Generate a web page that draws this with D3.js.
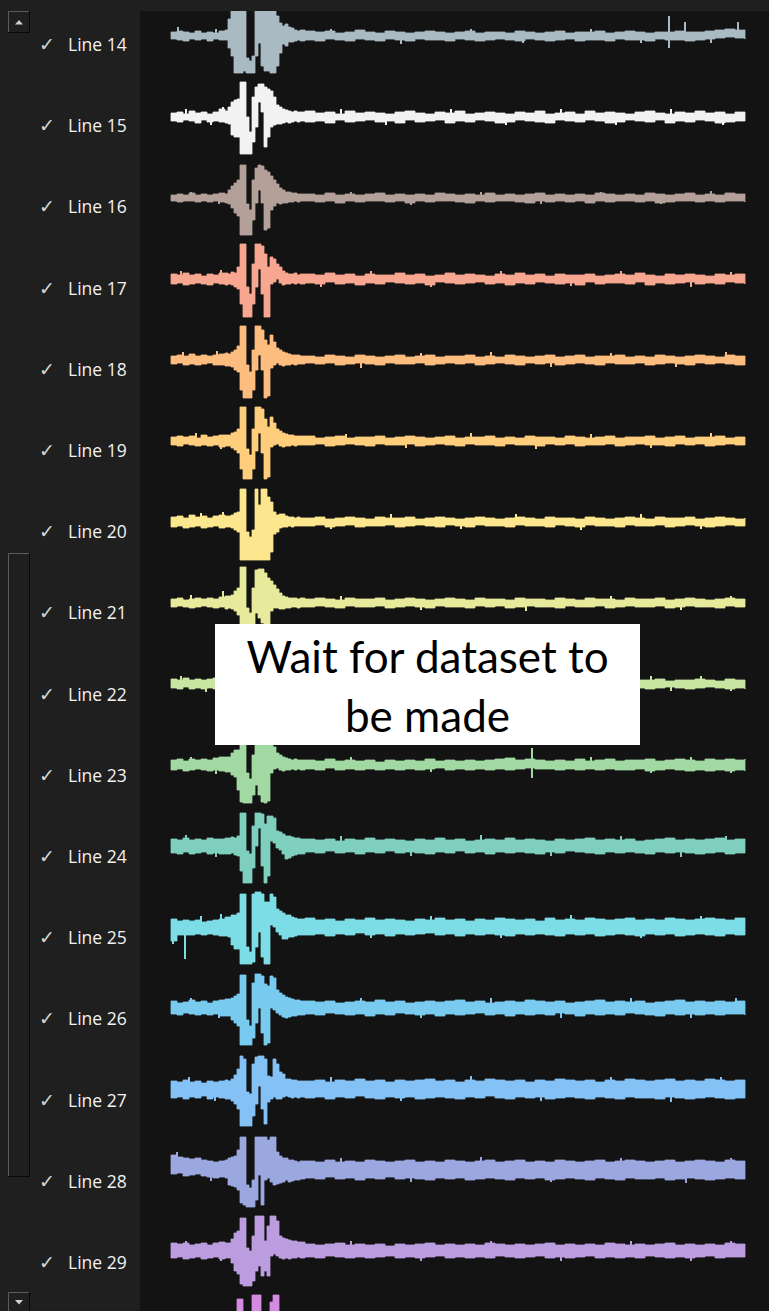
<!DOCTYPE html>
<html><head><meta charset="utf-8">
<script src="https://cdn.jsdelivr.net/npm/d3@7/dist/d3.min.js"></script>
<style>html,body{margin:0;padding:0;background:#1f1f1f;overflow:hidden}svg{display:block}</style>
</head><body><svg id="chart" width="769" height="1311"></svg>
<script>
// sample times (ms) of the traces
const times = [0,6,12,18,24,30,36,42,48,54,
 57,60,63,66,69,72,75,78,81,84,87,90,93,96,99,102,105,108,111,114,117,120,123,126,129,
 134,144,154,164,174,184,194,204,214,224,234,244,254,264,274,284,294,304,314,324,334,344,354,364,374,384,394,404,414,424,434,444,454,464,474,484,494,504,514,524,534,544,554,564,574];

const lineNames = ["Line 14","Line 15","Line 16","Line 17","Line 18","Line 19","Line 20","Line 21","Line 22","Line 23","Line 24","Line 25","Line 26","Line 27","Line 28","Line 29","Line 30"];
const lineColors = ["#a9bac3","#f2f2f2","#b3a199","#f7a690","#fdbd7f","#fece7d","#fce68e","#e6ea9a","#c8e6a2","#a2d9a3","#7fcfbf","#7ddde6","#78cbef","#84c2f5","#9ba7df","#bb9ddf","#d48ce0"];

// upper / lower envelope of each trace (amplitude units)
const up14 = [4,5,4,3,5,3,4,3,5,6, 17,30,30,30,30,30,-22,-25,-20,30,30,30,30,30,28,25,20,13,10,12,9,8,6,5,6, 5,4,5,3,4,6,4,3,5,4,3,4,5,4,3,4,5,3,4,4,3,5,4,3,4,5,3,4,4,5,3,4,5,4,3,4,4,5,4,4,5,6,7,6,5];
const lo14 = [-3,-4,-5,-3,-4,-3,-5,-3,-4,-4, -12,-20,-37,-37,-37,-35,-37,-37,-37,-20,-7,-30,-35,-35,-37,-37,-30,-17,-8,-10,-6,-6,-5,-4,-5, -4,-5,-3,-4,-5,-3,-4,-5,-3,-4,-5,-3,-4,-4,-5,-3,-4,-5,-4,-3,-4,-5,-3,-4,-5,-4,-3,-5,-4,-4,-5,-3,-4,-4,-5,-3,-4,-4,-5,-4,-3,-2,-1,-2,-3];
const up15 = [4,5,3,6,4,5,3,5,8,6, 10,15,17,18,35,35,0,-15,20,30,33,33,30,28,26,20,12,10,8,7,6,5,6,5,5, 6,4,5,3,6,4,5,4,3,5,6,4,3,5,4,6,3,4,5,4,3,5,4,6,3,4,5,3,6,4,5,4,3,5,6,4,3,5,4,6,4,5,3,5,4];
const lo15 = [-4,-5,-3,-4,-6,-3,-5,-4,-5,-6, -7,-18,-20,-20,-37,-37,-37,-37,-25,-10,15,5,-30,-20,-10,-8,-7,-7,-6,-5,-6,-5,-4,-5,-4, -5,-4,-6,-3,-5,-4,-3,-5,-4,-6,-3,-5,-4,-3,-6,-4,-5,-3,-4,-6,-5,-3,-4,-5,-6,-3,-4,-5,-3,-4,-6,-5,-3,-4,-5,-3,-6,-4,-5,-3,-4,-6,-5,-4,-4];
const up16 = [3,4,3,5,3,4,3,4,5,4, 8,12,15,18,33,33,-6,-12,18,30,33,32,28,26,22,18,14,10,8,6,6,5,5,4,4, 4,3,5,3,4,3,4,5,3,4,3,4,3,5,4,3,4,3,5,3,4,3,4,5,3,4,3,4,3,5,4,3,4,3,5,4,3,4,5,3,4,3,5,4,3];
const lo16 = [-3,-4,-3,-3,-4,-3,-4,-3,-4,-5, -6,-10,-15,-18,-37,-37,-37,-37,-22,-5,8,-5,-32,-30,-12,-8,-5,-6,-5,-5,-4,-4,-3,-4,-3, -3,-4,-3,-5,-3,-4,-3,-3,-4,-3,-5,-3,-4,-3,-3,-4,-5,-3,-4,-3,-3,-4,-5,-3,-4,-3,-4,-3,-5,-3,-4,-3,-3,-4,-3,-5,-4,-3,-3,-4,-3,-4,-3,-3,-4];
const up17 = [5,4,6,4,5,3,5,4,6,6, 5,7,6,12,35,35,-8,-15,15,35,35,33,25,12,22,20,15,12,8,6,5,5,6,4,5, 5,4,6,4,5,3,5,4,4,6,4,5,3,4,6,4,5,4,3,5,4,6,4,5,3,5,4,4,5,3,4,5,4,6,4,3,5,4,5,4,3,5,4,5,4];
const lo17 = [-5,-4,-6,-5,-4,-5,-6,-4,-5,-6, -5,-6,-8,-10,-25,-38,-38,-38,-25,-8,10,-15,-38,-38,-5,-3,0,-4,-6,-5,-5,-4,-5,-4,-5, -4,-5,-3,-5,-4,-6,-4,-5,-3,-4,-5,-4,-6,-3,-4,-5,-4,-3,-5,-4,-6,-4,-5,-3,-4,-5,-4,-6,-3,-5,-4,-4,-5,-3,-6,-4,-5,-4,-3,-5,-4,-5,-3,-4,-5];
const up18 = [4,5,4,6,4,5,4,5,6,7, 6,8,10,14,34,34,-5,-12,10,34,34,30,20,15,25,18,12,10,8,7,6,5,5,5,4, 4,3,5,4,3,5,4,3,4,5,3,4,5,3,4,4,5,3,4,3,5,4,3,4,5,3,4,5,3,4,4,5,3,4,3,5,4,3,4,5,4,3,5,4,4];
const lo18 = [-4,-3,-5,-4,-5,-4,-3,-5,-5,-6, -6,-7,-10,-12,-30,-38,-38,-38,-30,-10,5,-10,-38,-36,-8,-5,-3,-5,-6,-5,-5,-4,-5,-4,-4, -3,-4,-3,-5,-4,-3,-4,-5,-3,-4,-4,-3,-5,-4,-3,-4,-3,-5,-4,-3,-4,-5,-3,-4,-3,-5,-4,-3,-4,-5,-3,-4,-4,-3,-5,-4,-3,-4,-5,-3,-4,-3,-4,-5,-3];
const up19 = [4,5,4,5,3,6,4,5,6,6, 6,8,9,12,34,34,-8,-14,12,34,34,32,22,14,24,18,12,10,8,7,6,6,5,5,5, 5,3,4,5,3,4,4,5,3,4,5,4,3,4,5,3,4,4,5,3,4,3,5,4,4,3,5,4,3,4,5,3,4,4,5,3,4,5,3,4,4,5,3,4,4];
const lo19 = [-4,-5,-3,-4,-5,-4,-5,-4,-6,-5, -5,-7,-9,-12,-28,-38,-38,-38,-28,-10,8,-12,-38,-36,-6,-4,-3,-5,-6,-5,-5,-4,-5,-4,-4, -4,-3,-5,-4,-3,-4,-5,-3,-4,-4,-3,-5,-4,-3,-4,-5,-3,-4,-4,-5,-3,-4,-4,-5,-3,-4,-3,-5,-4,-4,-3,-5,-4,-3,-4,-4,-5,-3,-4,-3,-5,-4,-3,-4,-4];
const up20 = [5,6,4,7,5,6,4,6,7,6, 6,7,9,10,33,33,-10,-15,-8,33,17,33,33,25,20,10,7,8,8,6,5,5,4,5,4, 4,5,3,4,5,4,3,5,4,4,5,3,4,5,4,3,4,5,4,3,4,5,4,3,5,4,4,3,5,4,3,4,5,4,3,5,4,4,5,3,4,5,4,3,4];
const lo20 = [-5,-4,-6,-5,-4,-6,-5,-4,-6,-5, -5,-6,-8,-10,-38,-38,-38,-38,-38,-38,-38,-38,-38,-38,-30,-12,-10,-6,-5,-5,-4,-5,-4,-4,-4, -4,-3,-5,-4,-3,-5,-4,-4,-3,-5,-4,-3,-4,-5,-3,-4,-5,-3,-4,-4,-5,-3,-4,-4,-5,-3,-4,-5,-3,-4,-4,-5,-3,-4,-4,-3,-5,-4,-3,-4,-5,-4,-3,-4,-4];
const up21 = [4,5,3,4,5,4,5,4,6,7, 7,8,12,15,36,36,-5,-10,15,33,34,34,30,25,22,18,14,10,7,6,5,5,5,4,5, 4,5,4,3,5,4,4,5,3,4,5,4,3,4,5,4,3,5,4,4,3,5,4,4,3,5,4,3,5,4,4,3,5,4,4,5,3,4,5,4,3,4,5,4,4];
const lo21 = [-4,-3,-4,-5,-4,-3,-4,-5,-4,-6, -5,-6,-8,-12,-37,-37,-37,-37,-25,-10,-15,-20,-37,-30,-8,-5,-5,-6,-6,-5,-5,-4,-4,-5,-4, -4,-3,-4,-5,-3,-4,-4,-3,-5,-4,-3,-4,-5,-3,-4,-4,-5,-3,-4,-3,-5,-4,-3,-4,-4,-5,-3,-4,-4,-3,-5,-4,-3,-4,-4,-3,-5,-4,-3,-4,-4,-5,-3,-4,-4];
const up22 = [5,4,6,4,5,4,5,6,5,6, 6,8,10,14,34,34,-6,-12,14,34,34,32,24,14,22,18,12,10,8,7,6,5,5,5,5, 4,3,5,4,4,5,3,4,5,4,3,4,4,5,3,4,5,4,3,4,5,4,3,4,5,4,4,3,5,4,4,5,3,4,4,5,3,4,4,5,4,3,5,4,4];
const lo22 = [-4,-5,-3,-5,-4,-5,-4,-5,-4,-5, -6,-7,-10,-12,-30,-37,-37,-37,-28,-10,6,-12,-37,-35,-6,-4,-3,-5,-6,-5,-5,-4,-5,-4,-4, -4,-5,-3,-4,-4,-3,-5,-4,-3,-4,-5,-4,-3,-4,-5,-3,-4,-4,-5,-3,-4,-3,-5,-4,-4,-3,-5,-4,-4,-3,-5,-4,-3,-4,-5,-4,-3,-4,-5,-4,-3,-4,-5,-4,-5];
const up23 = [5,6,4,6,5,6,5,7,8,8, 8,12,15,15,33,33,-8,-14,10,33,34,32,28,25,22,18,12,10,8,7,6,5,6,5,5, 5,4,6,4,5,4,5,3,5,4,5,4,6,4,5,4,5,4,5,6,7,5,6,5,4,5,4,6,4,5,6,4,5,5,6,4,5,6,5,4,6,5,6,5,6];
const lo23 = [-5,-4,-6,-5,-4,-5,-6,-5,-6,-7, -7,-10,-12,-25,-37,-38,-38,-38,-30,-20,-30,-37,-38,-36,-8,-4,-3,-5,-6,-5,-5,-4,-5,-4,-5, -4,-5,-3,-5,-4,-5,-4,-5,-4,-5,-4,-5,-4,-3,-5,-4,-5,-4,-5,-4,-5,-4,-3,-4,-4,-5,-4,-5,-4,-5,-4,-5,-5,-4,-6,-5,-4,-5,-6,-5,-6,-5,-6,-5,-6];
const up24 = [7,6,8,6,7,6,8,7,7,8, 8,9,8,10,33,33,-5,-8,20,33,33,32,22,30,30,28,15,14,12,10,10,9,8,8,7, 7,6,7,5,7,6,8,6,7,6,5,7,6,8,6,7,5,6,7,6,8,6,7,6,5,7,6,7,8,6,7,6,7,5,6,7,8,6,7,6,7,8,6,7,7];
const lo24 = [-7,-8,-6,-8,-7,-6,-8,-7,-8,-8, -8,-7,-9,-10,-25,-37,-37,-37,-22,0,18,-20,-37,-30,5,3,-2,-4,-8,-13,-12,-10,-9,-8,-8, -6,-7,-5,-7,-6,-8,-6,-7,-5,-7,-6,-7,-8,-6,-7,-5,-7,-6,-8,-6,-7,-6,-7,-8,-6,-7,-5,-6,-7,-8,-6,-7,-6,-7,-8,-6,-7,-6,-7,-8,-7,-6,-8,-7,-7];
const up25 = [8,6,7,6,7,5,6,7,8,10, 10,12,12,14,33,33,-20,-25,33,35,35,33,25,25,33,30,18,16,14,12,12,10,9,8,8, 9,7,8,6,8,7,9,7,8,7,6,8,7,9,7,8,6,8,7,9,8,7,8,6,9,7,8,7,9,8,7,8,9,7,8,7,9,8,7,8,9,8,7,9,8];
const lo25 = [-14,-8,-8,-8,-7,-8,-7,-8,-9,-9, -10,-18,-22,-22,-37,-37,-37,-37,-35,-20,-5,-30,-37,-37,2,0,-5,-8,-12,-12,-10,-10,-9,-8,-8, -8,-7,-9,-7,-8,-6,-8,-7,-9,-7,-8,-7,-6,-8,-7,-9,-7,-8,-7,-8,-9,-7,-8,-7,-8,-9,-7,-8,-7,-9,-8,-7,-8,-9,-7,-8,-7,-9,-8,-7,-8,-9,-7,-8,-8];
const up26 = [7,5,6,8,6,7,5,7,8,9, 9,10,12,14,33,33,-12,-18,25,34,34,32,24,22,32,30,18,15,13,11,10,9,8,8,7, 7,6,7,5,6,7,6,8,6,7,5,6,7,6,7,8,6,7,5,6,7,6,8,7,6,7,5,6,7,8,6,7,6,7,5,6,7,8,6,7,6,7,6,7,6];
const lo26 = [-6,-7,-5,-6,-7,-6,-7,-6,-8,-8, -8,-12,-15,-18,-37,-37,-37,-37,-30,-15,0,-25,-37,-35,0,-2,-5,-7,-9,-10,-9,-8,-8,-7,-7, -6,-7,-5,-6,-7,-6,-8,-6,-7,-5,-6,-7,-6,-8,-6,-7,-6,-5,-7,-6,-8,-6,-7,-6,-7,-5,-6,-8,-6,-7,-6,-7,-5,-6,-7,-8,-6,-7,-6,-7,-6,-7,-6,-6,-7];
const up27 = [8,7,9,7,8,6,8,7,8,9, 8,10,14,20,33,30,-3,-5,25,32,33,33,30,13,12,30,25,17,15,10,10,9,9,8,8, 8,9,7,9,8,10,8,9,7,9,8,9,10,8,9,7,9,8,10,9,8,9,7,9,8,10,9,8,9,7,9,8,10,9,8,9,10,8,9,8,10,9,8,9,9];
const lo27 = [-9,-8,-10,-8,-9,-7,-10,-8,-9,-10, -10,-12,-15,-20,-37,-37,-37,-37,-27,-15,3,-20,-35,-13,-10,-8,-10,-10,-8,-7,-8,-9,-8,-9,-8, -9,-8,-10,-8,-9,-7,-9,-10,-8,-9,-8,-10,-9,-8,-9,-10,-8,-9,-7,-9,-10,-8,-9,-8,-10,-9,-8,-9,-10,-8,-9,-10,-8,-9,-9,-10,-8,-9,-10,-9,-8,-9,-10,-9,-9];
const up28 = [15,13,12,11,12,10,9,8,9,10, 12,13,14,20,33,33,-15,-18,-10,33,33,33,33,30,33,33,18,14,12,12,10,10,9,8,9, 9,8,10,8,9,8,10,9,8,9,10,8,9,8,10,9,8,9,10,8,9,10,8,9,8,10,9,8,9,10,8,9,10,9,8,9,10,8,9,10,9,8,10,9,9];
const lo28 = [-4,-3,-6,-5,-4,-6,-7,-8,-7,-8, -15,-16,-17,-20,-33,-35,-37,-37,-37,-30,-5,-35,-10,-8,-12,-15,-14,-13,-12,-10,-12,-11,-10,-10,-9, -8,-9,-7,-9,-8,-10,-8,-9,-7,-9,-8,-9,-10,-8,-9,-8,-10,-9,-8,-9,-10,-8,-9,-8,-10,-9,-8,-9,-10,-8,-9,-10,-8,-9,-9,-8,-10,-9,-8,-9,-10,-9,-8,-9,-9];
const up29 = [8,7,8,6,7,8,6,8,9,8, 8,12,18,20,33,33,3,0,15,35,35,35,10,25,35,35,30,15,13,12,11,10,10,9,9, 7,6,7,8,6,7,6,7,5,7,6,7,8,6,7,6,7,6,8,7,6,7,6,7,8,6,7,6,7,6,8,7,6,7,6,7,8,6,7,6,7,6,8,7,6];
const lo29 = [-7,-6,-8,-7,-6,-8,-7,-6,-8,-7, -7,-12,-20,-23,-33,-35,-35,-35,-30,-20,-15,-25,-20,-25,-5,-3,-5,-7,-8,-7,-8,-7,-7,-6,-7, -6,-7,-5,-6,-7,-6,-7,-6,-5,-7,-6,-7,-6,-5,-7,-6,-7,-6,-7,-5,-6,-7,-6,-5,-7,-6,-7,-6,-5,-7,-6,-7,-6,-7,-5,-6,-7,-6,-7,-6,-5,-7,-6,-6,-6];
const up30 = [7,6,8,7,6,7,8,7,8,9, 9,10,12,33,33,-10,-15,-5,37,37,37,20,10,15,30,37,37,15,12,10,9,9,8,8,8, 7,8,6,7,8,7,6,8,7,6,8,7,6,7,8,6,7,8,7,6,7,8,6,7,8,7,6,7,8,7,6,8,7,6,7,8,7,6,8,7,6,7,8,7,7];
const lo30 = [-7,-6,-7,-8,-6,-7,-6,-8,-7,-8, -8,-10,-15,-37,-37,-37,-37,-37,-30,-20,-10,-30,-37,-30,-10,-5,-8,-10,-9,-8,-8,-7,-8,-7,-8, -7,-6,-8,-7,-6,-7,-8,-6,-7,-8,-6,-7,-8,-7,-6,-7,-8,-6,-7,-7,-8,-6,-7,-8,-6,-7,-8,-7,-6,-7,-8,-7,-6,-8,-7,-6,-7,-8,-7,-6,-7,-8,-6,-7,-7];

// narrow spikes on each trace: [time, peak amplitude]
const spk14 = [[7,9],[45,7],[160,7],[230,-8],[300,7],[352,-7],[420,7],[470,-7],[498,20],[498,-12],[514,14],[540,-7],[567,14]];
const spk15 = [[15,8],[40,-8],[52,10],[170,8],[215,-8],[280,8],[335,-8],[390,8],[445,-8],[500,8],[552,-8]];
const spk16 = [[20,6],[48,-6],[180,6],[240,-7],[310,6],[370,-6],[430,6],[490,-6],[540,7]];
const spk17 = [[10,8],[50,9],[150,-8],[200,8],[260,-8],[330,8],[400,-7],[450,8],[520,-8],[560,7]];
const spk18 = [[12,8],[46,9],[190,-8],[250,7],[320,8],[380,-7],[440,7],[505,-7],[555,8]];
const spk19 = [[25,8],[50,-8],[175,7],[235,-7],[300,8],[365,-8],[420,7],[480,-7],[540,8]];
const spk20 = [[30,9],[52,10],[160,-7],[220,8],[290,-7],[345,8],[410,-8],[470,8],[530,-7]];
const spk21 = [[20,8],[52,12],[170,7],[250,-7],[355,-8],[440,7],[510,-7],[560,7]];
const spk22 = [[10,8],[35,-8],[480,8],[500,-7],[530,8],[560,-7]];
const spk23 = [[20,8],[45,-9],[180,8],[260,-7],[340,6],[361,17],[361,-13],[420,8],[480,-8],[520,8],[560,-8]];
const spk24 = [[15,11],[45,-11],[170,10],[240,-10],[310,11],[380,-10],[450,10],[510,-11],[555,10]];
const spk25 = [[2,-17],[14,-32],[30,11],[50,13],[200,-11],[260,11],[330,-11],[400,12],[470,-11],[530,11]];
const spk26 = [[20,10],[48,-10],[190,10],[250,-10],[320,10],[390,-10],[460,10],[520,-10],[565,10]];
const spk27 = [[18,12],[44,-12],[160,12],[230,-12],[300,13],[370,-12],[440,12],[500,-13],[550,12]];
const spk28 = [[6,18],[40,-11],[170,12],[240,-12],[310,13],[380,-12],[450,12],[515,-13],[560,12]];
const spk29 = [[15,10],[50,-10],[180,10],[250,-10],[320,10],[390,-10],[460,10],[520,-10],[560,10]];
const spk30 = [[20,10],[50,-10],[200,10],[330,-10],[460,10]];

const uppers = [up14,up15,up16,up17,up18,up19,up20,up21,up22,up23,up24,up25,up26,up27,up28,up29,up30];
const lowers = [lo14,lo15,lo16,lo17,lo18,lo19,lo20,lo21,lo22,lo23,lo24,lo25,lo26,lo27,lo28,lo29,lo30];
const spikes = [spk14,spk15,spk16,spk17,spk18,spk19,spk20,spk21,spk22,spk23,spk24,spk25,spk26,spk27,spk28,spk29,spk30];
const overlayLines = ["Wait for dataset to", "be made"];

const series = lineNames.map((name, i) => ({
  name, color: lineColors[i],
  pts: times.map((t, k) => ({t, up: uppers[i][k], lo: lowers[i][k]})),
  spikes: spikes[i].map(([t, a]) => ({t, a}))
}));

const W = 769, H = 1311;
const svg = d3.select("#chart");

// panels
svg.append("rect").attr("x",0).attr("y",0).attr("width",W).attr("height",H).attr("fill","#1f1f1f");
svg.append("rect").attr("x",140).attr("y",11).attr("width",W-140).attr("height",H-11).attr("fill","#131313");

svg.append("defs").append("clipPath").attr("id","plotClip")
  .append("rect").attr("x",140).attr("y",11).attr("width",W-140).attr("height",H-11);

const x = d3.scaleLinear().domain([0,574]).range([171,745]);
const lane = d3.scalePoint().domain(lineNames).range([36, 36 + 16*81]);
const labelY = d3.scalePoint().domain(lineNames).range([51, 51 + 16*81.2]);

const plot = svg.append("g").attr("clip-path","url(#plotClip)");
series.forEach(s => {
  const c = lane(s.name);
  const y = d3.scaleLinear().domain([-40,40]).range([c+40, c-40]);
  const area = d3.area().x(d => x(d.t)).y0(d => y(d.lo)).y1(d => y(d.up)).curve(d3.curveStepAfter);
  plot.append("path").datum(s.pts).attr("d", area)
    .attr("fill", s.color).attr("stroke", s.color).attr("stroke-width", 0.8);
  plot.selectAll(null).data(s.spikes).join("line")
    .attr("x1", d => x(d.t)).attr("x2", d => x(d.t))
    .attr("y1", y(0)).attr("y2", d => y(d.a))
    .attr("stroke", s.color).attr("stroke-width", 2);
});

// labels
const labels = svg.append("g");
series.slice(0,16).forEach(s => {
  const ly = labelY(s.name);
  labels.append("text").attr("x",39).attr("y",ly).text("\u2713")
    .attr("font-family","DejaVu Sans").attr("font-size",19).attr("fill","#d6d6d6");
  labels.append("text").attr("x",68).attr("y",ly).text(s.name)
    .attr("font-family","Open Sans, Noto Sans, sans-serif").attr("font-size",17.5).attr("fill","#f2f2f2");
});

// scroll controls
function bevel(g, x0, y0, w, h) {
  g.append("rect").attr("x",x0).attr("y",y0).attr("width",w).attr("height",h).attr("fill","#1f1f1f");
  g.append("path").attr("d",`M${x0+0.5},${y0+h} V${y0+0.5} H${x0+w}`).attr("stroke","#5c5c5c").attr("fill","none");
  g.append("path").attr("d",`M${x0+w-0.5},${y0} V${y0+h-0.5} H${x0}`).attr("stroke","#080808").attr("fill","none");
}
const ctl = svg.append("g");
bevel(ctl, 8, 11, 22, 22);
ctl.append("path").attr("d","M15,24.5 L23,24.5 L19,20 Z").attr("fill","#d0d0d0");
bevel(ctl, 8, 1292, 22, 22);
ctl.append("path").attr("d","M15,1300 L23,1300 L19,1304.5 Z").attr("fill","#d0d0d0");
bevel(ctl, 8, 553, 22, 624);

// overlay message
const ov = svg.append("g");
ov.append("rect").attr("x",215).attr("y",624).attr("width",425).attr("height",121).attr("fill","#ffffff");
overlayLines.forEach((t, i) => {
  ov.append("text").attr("x",427.5).attr("y",673 + i*58.5).attr("text-anchor","middle")
    .attr("font-family","Lato, Open Sans, sans-serif").attr("font-size",44).attr("fill","#000")
    .text(t);
});
</script>
</body></html>
